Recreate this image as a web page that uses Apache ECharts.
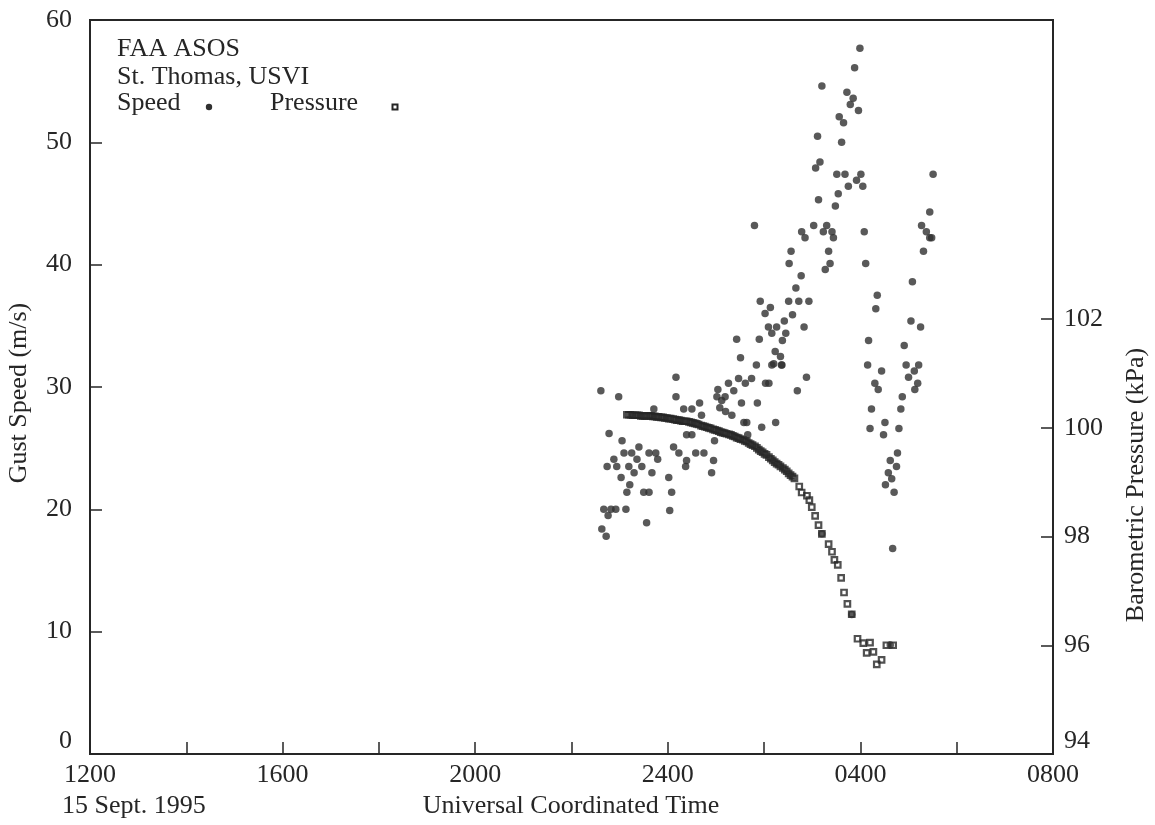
<!DOCTYPE html>
<html><head><meta charset="utf-8">
<script src="https://cdn.jsdelivr.net/npm/echarts@6/dist/echarts.min.js"></script>
<style>html,body{margin:0;padding:0;background:#fff}#c{width:1155px;height:825px}</style>
</head><body><div id="c"></div>
<script>
// Time in hours UTC from 1200 on 15 Sept. 1995 (24 = 2400, 28 = 0400 next day)
const xTickLabels = ['1200','1600','2000','2400','0400','0800'];
const speedTime = [22.61,22.98,22.78,23.05,23.40,23.09,23.25,23.61,23.75,22.88,23.36,23.79,22.74,22.94,23.19,23.46,23.30,23.67,23.03,24.02,23.21,23.15,23.50,23.61,24.08,22.67,22.82,22.92,23.13,22.76,24.04,23.56,22.63,22.72,23.71,24.17,24.17,24.33,24.50,24.66,24.70,24.39,24.50,24.12,24.23,24.58,24.75,24.39,24.37,24.95,24.97,24.91,25.04,25.02,25.12,25.08,25.20,25.33,25.19,25.26,25.37,25.47,25.51,25.43,25.53,25.58,25.64,25.66,25.61,25.74,25.84,25.86,25.90,25.92,25.80,25.95,26.03,26.10,26.02,26.13,26.09,26.26,26.16,26.23,26.20,26.24,26.16,26.36,26.88,26.69,
27.99,27.88,27.20,27.72,27.85,27.79,27.96,27.56,27.65,27.11,27.61,27.16,27.07,27.51,27.68,28.01,29.51,27.92,27.75,28.05,27.54,27.13,27.48,29.44,27.03,26.78,26.85,27.30,27.23,27.41,27.44,28.08,29.27,29.37,29.44,29.48,26.56,27.34,29.31,26.52,27.37,27.27,28.11,26.77,26.66,29.08,28.35,26.51,26.72,26.93,28.32,26.59,26.42,29.05,26.83,29.25,26.45,26.38,28.17,28.91,26.34,26.37,28.15,28.95,29.21,28.44,29.12,29.00,28.30,28.37,29.19,29.13,28.87,28.23,28.84,28.51,28.20,28.80,28.48,28.77,28.62,28.75,28.58,28.65,28.52,28.70,28.67,27.82,28.62,27.20];
const speedValue = [29.7,29.2,26.2,25.6,25.1,24.6,24.6,24.6,24.6,24.1,24.1,24.1,23.5,23.5,23.5,23.5,23.0,23.0,22.6,22.6,22.0,21.4,21.4,21.4,21.4,20.0,20.0,20.0,20.0,19.5,19.9,18.9,18.4,17.8,28.2,30.8,29.2,28.2,28.2,28.7,27.7,26.1,26.1,25.1,24.6,24.6,24.6,24.0,23.5,24.0,25.6,23.0,29.8,29.2,28.9,28.3,28.0,27.7,29.2,30.3,29.7,30.7,32.4,33.9,28.7,27.1,27.1,26.1,30.3,30.7,31.8,28.7,33.9,37.0,43.2,26.7,30.3,30.3,36.0,36.5,34.9,34.9,34.4,32.9,31.9,27.1,31.8,31.8,30.8,29.7,
57.7,56.1,54.6,54.1,53.6,53.1,52.6,52.1,51.6,50.5,50.0,48.4,47.9,47.4,47.4,47.4,47.4,46.9,46.4,46.4,45.8,45.3,44.8,44.3,43.2,42.7,42.2,43.2,42.7,42.7,42.2,42.7,43.2,42.7,42.2,42.2,41.1,41.1,41.1,40.1,40.1,39.6,40.1,39.1,38.1,38.6,37.5,37.0,37.0,37.0,36.4,35.9,35.4,35.4,34.9,34.9,34.4,33.8,33.8,33.4,32.5,31.8,31.8,31.8,31.8,31.3,31.3,30.8,30.3,29.8,30.3,29.8,29.2,28.2,28.2,27.1,26.6,26.6,26.1,24.6,24.0,23.5,23.0,22.5,22.0,21.4,16.8,11.4,8.9,18.0];
const pressureTime = [23.15,23.19,23.23,23.27,23.32,23.36,23.40,23.44,23.48,23.52,23.56,23.61,23.65,23.69,23.73,23.77,23.81,23.86,23.90,23.94,23.98,24.02,24.06,24.11,24.15,24.19,24.23,24.27,24.31,24.35,24.39,24.44,24.48,24.52,24.56,24.60,24.64,24.69,24.73,24.77,24.81,24.85,24.89,24.94,24.98,25.02,25.06,25.10,25.14,25.18,25.22,25.27,25.31,25.35,25.39,25.43,25.47,25.51,25.56,25.60,25.64,25.68,25.72,25.76,25.81,25.85,25.89,25.93,25.97,26.01,26.05,26.10,26.14,26.18,26.22,26.26,26.30,26.34,26.39,26.43,26.47,26.51,26.55,26.59,26.63,
26.73,26.78,26.89,26.94,26.99,27.06,27.13,27.20,27.34,27.41,27.46,27.53,27.60,27.66,27.73,27.82,27.94,28.06,28.20,28.13,28.27,28.34,28.44,28.54,28.68];
const pressureValue = [100.24,100.24,100.24,100.23,100.23,100.23,100.23,100.22,100.22,100.22,100.22,100.22,100.22,100.21,100.21,100.20,100.20,100.19,100.19,100.18,100.18,100.17,100.17,100.16,100.15,100.14,100.14,100.13,100.12,100.12,100.12,100.11,100.10,100.09,100.08,100.07,100.06,100.04,100.03,100.02,100.01,100.00,99.99,99.97,99.96,99.95,99.94,99.92,99.91,99.90,99.89,99.88,99.87,99.85,99.84,99.82,99.81,99.79,99.78,99.76,99.75,99.72,99.70,99.68,99.66,99.63,99.60,99.57,99.55,99.52,99.50,99.46,99.43,99.40,99.37,99.34,99.32,99.29,99.26,99.23,99.20,99.16,99.13,99.10,99.07,
98.92,98.81,98.75,98.67,98.54,98.38,98.21,98.05,97.86,97.72,97.57,97.48,97.24,96.97,96.76,96.57,96.12,96.04,96.05,95.86,95.88,95.65,95.73,96.00,96.00];
const pressureTicks = [94,96,98,100,102];
const legendLines = ['FAA ASOS','St. Thomas, USVI'];

const FONT = '"Liberation Serif", "DejaVu Serif", serif';
const INK = '#262626';
const FS = 26;
const chart = echarts.init(document.getElementById('c'), null, {renderer:'canvas'});
const speedData = speedTime.map((t,i)=>[t,speedValue[i]]);
const pressData = pressureTime.map((t,i)=>[t,pressureValue[i]]);
function fmtTime(v){ if (v===24) return '2400'; const h=(v%24)*100; return String(h).padStart(4,'0'); }
const lowRich = {lo:{padding:[0,0,26,0],fontSize:FS,fontFamily:FONT,color:INK}};
chart.setOption({
  backgroundColor:'#fff',
  animation:false,
  grid:{left:90,right:102,top:20,bottom:71,show:true,borderColor:INK,borderWidth:2,backgroundColor:'transparent'},
  xAxis:{type:'value',min:12,max:32,interval:2,
    axisLine:{show:true,lineStyle:{color:INK,width:2}},
    axisTick:{inside:true,length:12,lineStyle:{color:INK,width:1.5}},
    axisLabel:{margin:8,color:INK,fontFamily:FONT,fontSize:FS,
      formatter:v=>((v-12)%4===0? fmtTime(v):'')},
    splitLine:{show:false}},
  yAxis:[
    {type:'value',min:0,max:60,interval:10,position:'left',
      axisLine:{show:true,lineStyle:{color:INK,width:2}},
      axisTick:{inside:true,length:12,lineStyle:{color:INK,width:1.5}},
      axisLabel:{margin:18,color:INK,fontFamily:FONT,fontSize:FS,rich:lowRich,
        formatter:v=>(v===0? '{lo|0}':String(v))},
      splitLine:{show:false}},
    {type:'value',min:94,max:107.5,interval:2,position:'right',
      axisLine:{show:true,lineStyle:{color:INK,width:2}},
      axisTick:{inside:true,length:12,lineStyle:{color:INK,width:1.5},customValues:pressureTicks},
      axisLabel:{margin:11,color:INK,fontFamily:FONT,fontSize:FS,customValues:pressureTicks,rich:lowRich,
        formatter:v=>(v===94? '{lo|94}': (v<=102? String(v):''))},
      splitLine:{show:false}}
  ],
  series:[
    {name:'Pressure',type:'scatter',yAxisIndex:1,data:pressData,symbol:'rect',symbolSize:5.5,
      itemStyle:{color:'rgba(0,0,0,0)',borderColor:INK,borderWidth:2.2},z:2},
    {name:'Speed',type:'scatter',yAxisIndex:0,data:speedData,symbol:'circle',symbolSize:7.5,
      itemStyle:{color:'#303030'},z:3}
  ],
  graphic:[
    {type:'text',x:117,y:49,style:{text:legendLines[0],font:FS+'px '+FONT,fill:INK,verticalAlign:'middle'}},
    {type:'text',x:117,y:77,style:{text:legendLines[1],font:FS+'px '+FONT,fill:INK,verticalAlign:'middle'}},
    {type:'text',x:117,y:103,style:{text:'Speed',font:FS+'px '+FONT,fill:INK,verticalAlign:'middle'}},
    {type:'circle',shape:{cx:209,cy:107,r:3.2},style:{fill:'#303030'}},
    {type:'text',x:270,y:103,style:{text:'Pressure',font:FS+'px '+FONT,fill:INK,verticalAlign:'middle'}},
    {type:'rect',shape:{x:392.5,y:104.5,width:5,height:5},style:{fill:'none',stroke:INK,lineWidth:2}},
    {type:'text',x:62,y:806,style:{text:'15 Sept. 1995',font:FS+'px '+FONT,fill:INK,verticalAlign:'middle'}},
    {type:'text',x:571,y:806,style:{text:'Universal Coordinated Time',font:FS+'px '+FONT,fill:INK,align:'center',verticalAlign:'middle'}},
    {type:'text',x:19,y:393,rotation:Math.PI/2,style:{text:'Gust Speed (m/s)',font:FS+'px '+FONT,fill:INK,align:'center',verticalAlign:'middle'}},
    {type:'text',x:1136,y:485,rotation:Math.PI/2,style:{text:'Barometric Pressure (kPa)',font:FS+'px '+FONT,fill:INK,align:'center',verticalAlign:'middle'}}
  ]
});
</script></body></html>
